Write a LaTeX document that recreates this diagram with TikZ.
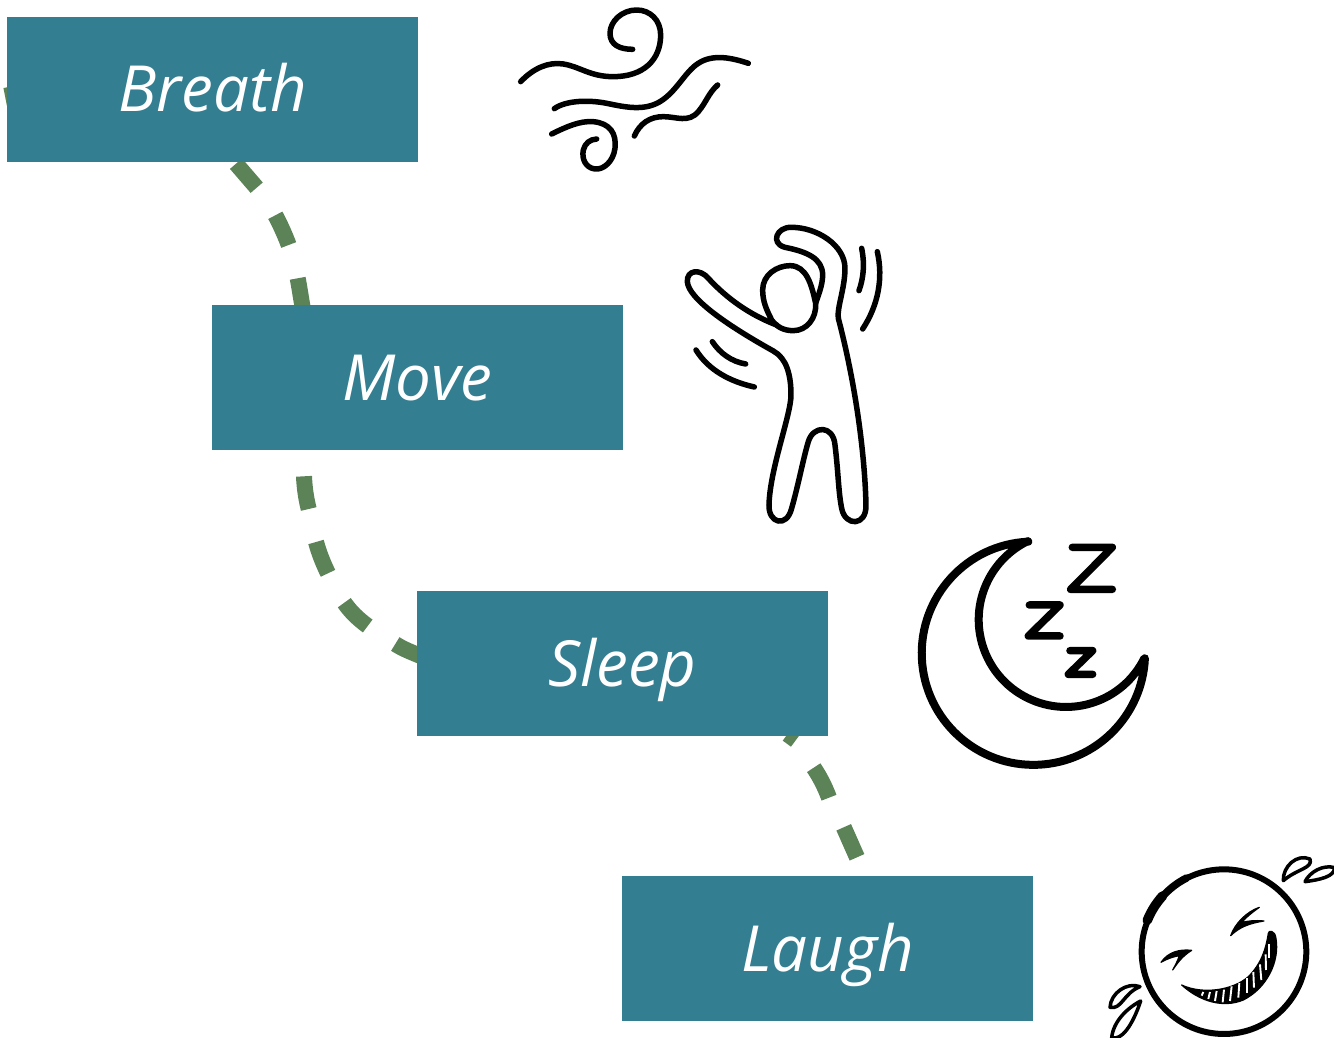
\documentclass[tikz,border=0pt]{standalone}
\usepackage{fontspec}
\setmainfont{Open Sans}
\usetikzlibrary{backgrounds,calc}
\definecolor{boxteal}{HTML}{347E91}
\definecolor{dashgreen}{HTML}{5B8357}
\tikzset{
  stepbox/.style={fill=boxteal,text=white,minimum width=411pt,minimum height=145pt,inner sep=0pt,text height=50pt,text depth=5pt,font=\fontsize{63.6}{76}\selectfont\itshape},
  link/.style={draw=dashgreen,line width=16pt},
  icon/.style={black,line cap=round,line join=round,line width=5.5pt},
  iconfill/.style={fill=black,draw=black,line width=1.2pt,line join=round},
  tooth/.style={white,line width=1.9pt},
}
\begin{document}
\begin{tikzpicture}[x=1pt,y=-1pt]
\useasboundingbox (0,0) rectangle (1334,1038);
\node[stepbox] (breath) at (212.5,89.5) {Breath};
\node[stepbox] (move) at (417.5,377.5) {Move};
\node[stepbox] (sleep) at (622.5,663.5) {Sleep};
\node[stepbox] (laugh) at (827.5,948.5) {Laugh};
\begin{pgfonlayer}{background}
\draw[link] ($(breath.west)+(4.5,-3)$) -- ($(breath.west)+(9,20)$);
\draw[link] ($(breath.south)+(23.5,1.5)$) -- (256.7,187.7);
\draw[link] (275.3,215.3) .. controls (280,224) and (285,235) .. (288.7,245);
\draw[link] (297.7,278.3) .. controls (299.5,288) and (301,298) .. ($(move.north)+(-114.5,5)$);
\draw[link] (304,476.3) .. controls (304.5,488) and (306,498) .. (308.7,509);
\draw[link] (316,542) .. controls (319,553) and (323,563) .. (328,573.3);
\draw[link] (344.3,602.7) .. controls (350,611) and (358,619) .. (367.7,626);
\draw[link] (395.3,644) .. controls (403,649) and (411,652) .. ($(sleep.west)+(5,-7)$);
\draw[link] ($(sleep.south)+(165,-2)$) -- (795.7,740.3);
\draw[link] (813.7,767.7) .. controls (820,777) and (825,787) .. (829,797.7);
\draw[link] (843.7,827.3) -- (857,857.3);
\end{pgfonlayer}
% wind
\begin{scope}[shift={(500,0)},x=.3333pt,y=-.3333pt]
\draw[icon] (62,245) .. controls (100,205) and (145,185) .. (190,192) .. controls (240,200) and (270,230) .. (340,230) .. controls (430,230) and (482,180) .. (482,105) .. controls (482,60) and (450,30) .. (410,30) .. controls (365,30) and (330,65) .. (330,100) .. controls (330,135) and (360,148) .. (398,148);
\draw[icon] (163,326) .. controls (200,300) and (270,300) .. (320,310) .. controls (370,320) and (430,335) .. (480,305) .. controls (530,275) and (555,215) .. (595,190) .. controls (640,160) and (700,175) .. (745,190);
\draw[icon] (403,408) .. controls (420,370) and (450,350) .. (490,350) .. controls (530,350) and (565,370) .. (595,335) .. controls (620,305) and (625,280) .. (653,255);
\draw[icon] (155,402) .. controls (200,380) and (240,362) .. (280,365) .. controls (330,370) and (350,400) .. (345,445) .. controls (340,485) and (310,510) .. (285,507) .. controls (255,503) and (245,475) .. (250,450) .. controls (255,430) and (270,418) .. (290,417);
\end{scope}
% dancer
\begin{scope}[shift={(670,215)},x=.3333pt,y=-.3333pt]
\draw[icon] (320,330) .. controls (240,300) and (170,250) .. (115,190) .. controls (90,160) and (50,165) .. (52,200) .. controls (55,250) and (170,330) .. (310,408) .. controls (350,430) and (363,480) .. (363,540) .. controls (363,600) and (300,760) .. (297,870) .. controls (295,925) and (350,940) .. (365,880) .. controls (385,810) and (400,730) .. (415,680) .. controls (430,630) and (490,630) .. (495,690) .. controls (505,770) and (505,830) .. (515,880) .. controls (525,935) and (590,935) .. (588,870) .. controls (585,730) and (560,520) .. (505,310) .. controls (500,280) and (525,220) .. (525,160) .. controls (525,90) and (440,37) .. (365,37) .. controls (320,35) and (300,85) .. (345,97) .. controls (410,110) and (458,130) .. (458,180) .. controls (458,210) and (445,240) .. (437,265);
\draw[icon] (305,315) .. controls (290,285) and (278,260) .. (278,225) .. controls (278,180) and (320,152) .. (360,152) .. controls (410,152) and (425,210) .. (437,265) .. controls (440,310) and (410,347) .. (370,347) .. controls (340,347) and (320,335) .. (305,315) -- cycle;
\draw[icon] (575,100) .. controls (585,150) and (580,190) .. (567,227);
\draw[icon] (622,110) .. controls (640,190) and (625,270) .. (578,342);
\draw[icon] (127,380) .. controls (150,415) and (185,440) .. (227,447);
\draw[icon] (78,405) .. controls (115,465) and (180,500) .. (253,516);
\end{scope}
% moon
\begin{scope}[shift={(910,530)},x=.3333pt,y=-.3333pt]
\draw[icon,line width=8pt] (355,35) arc[start angle=267.4,end angle=2.6,radius=335] -- (703,385) arc[start angle=26.3,end angle=244,radius=262] -- cycle;
\draw[icon,line width=7.5pt] (487,52) -- (607,52) -- (482,178) -- (607,178);
\draw[icon,line width=7.5pt] (358,225) -- (450,225) -- (355,318) -- (450,318);
\draw[icon,line width=7.5pt] (480,362) -- (548,362) -- (475,433) -- (548,433);
\end{scope}
% laughing face
\begin{scope}[shift={(1100,845)},x=.3333pt,y=-.3333pt]
\draw[icon,line width=6pt] (372,320) circle[radius=247];
\draw[icon,line width=9.5pt] (142,226) arc[start angle=202,end angle=222,radius=248];
\draw[icon,line width=7.5pt] (188,154) arc[start angle=222,end angle=243,radius=248];
\fill[iconfill] (245,420) .. controls (300,470) and (370,490) .. (430,465) .. controls (500,430) and (540,350) .. (528,280) .. controls (525,255) and (505,255) .. (505,265) .. controls (498,310) and (485,355) .. (445,395) .. controls (400,435) and (310,450) .. (245,420) -- cycle;
\foreach \a/\b/\c/\d in {310/441/305/452,330/441/325/462,350/438/345/468,372/434/368/472,395/424/390/468,418/414/415/458,440/400/440/445,460/381/462/428,480/358/484/405,497/328/498/375,507/298/507/340}
  \draw[tooth] (\a,\b) -- (\c,\d);
\fill[iconfill] (478,187) .. controls (440,200) and (405,235) .. (392,272) .. controls (420,245) and (450,235) .. (492,228) .. controls (465,225) and (445,228) .. (425,232) .. controls (440,215) and (460,200) .. (478,187) -- cycle;
\fill[iconfill] (275,316) .. controls (240,312) and (205,320) .. (183,352) .. controls (200,342) and (220,335) .. (238,332) .. controls (232,350) and (225,362) .. (218,375) .. controls (232,355) and (245,335) .. (275,316) -- cycle;
\draw[icon,line width=3.5pt] (550,107) .. controls (548,65) and (590,25) .. (630,42) .. controls (640,70) and (590,72) .. (550,107) -- cycle;
\draw[icon,line width=3.5pt] (615,110) .. controls (630,80) and (670,58) .. (704,68) .. controls (704,95) and (660,104) .. (615,110) -- cycle;
\draw[icon,line width=3.5pt] (120,425) .. controls (80,410) and (32,445) .. (30,487) .. controls (65,495) and (70,445) .. (120,425) -- cycle;
\draw[icon,line width=3.5pt] (122,468) .. controls (80,490) and (40,530) .. (35,578) .. controls (65,588) and (98,540) .. (122,468) -- cycle;
\end{scope}
\end{tikzpicture}
\end{document}
